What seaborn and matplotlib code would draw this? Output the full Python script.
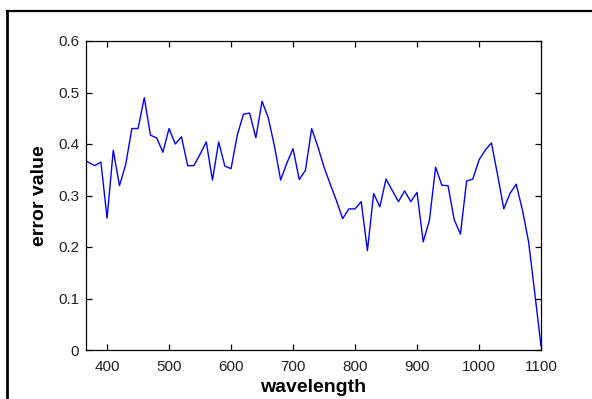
import numpy as np
import pandas as pd
import matplotlib
matplotlib.use('Agg')
import matplotlib.pyplot as plt
from matplotlib.lines import Line2D
import seaborn as sns

# data
wavelength = [366, 380, 390, 400, 410, 420, 430, 440, 450, 460,
              470, 480, 490, 500, 510, 520, 530, 540, 550, 560,
              570, 580, 590, 600, 610, 620, 630, 640, 650, 660,
              670, 680, 690, 700, 710, 720, 730, 740, 750, 760,
              770, 780, 790, 800, 810, 820, 830, 840, 850, 860,
              870, 880, 890, 900, 910, 920, 930, 940, 950, 960,
              970, 980, 990, 1000, 1010, 1020, 1030, 1040, 1050, 1060,
              1070, 1080, 1090, 1100]
error_value = [0.367, 0.358, 0.365, 0.256, 0.388, 0.319, 0.360, 0.430, 0.430, 0.490,
               0.417, 0.412, 0.384, 0.430, 0.400, 0.414, 0.358, 0.358, 0.380, 0.404,
               0.330, 0.404, 0.357, 0.352, 0.417, 0.458, 0.460, 0.412, 0.483, 0.451,
               0.396, 0.330, 0.363, 0.391, 0.331, 0.349, 0.430, 0.395, 0.355, 0.322,
               0.290, 0.255, 0.274, 0.274, 0.288, 0.193, 0.304, 0.278, 0.332, 0.310,
               0.288, 0.309, 0.288, 0.306, 0.210, 0.252, 0.355, 0.320, 0.319, 0.253,
               0.225, 0.328, 0.332, 0.369, 0.388, 0.402, 0.340, 0.274, 0.304, 0.322,
               0.272, 0.210, 0.110, 0.008]

x_ticks = [400, 500, 600, 700, 800, 900, 1000, 1100]
y_ticks = [0, 0.1, 0.2, 0.3, 0.4, 0.5, 0.6]
y_ticklabels = ['0', '0.1', '0.2', '0.3', '0.4', '0.5', '0.6']

df = pd.DataFrame({'wavelength': wavelength, 'error value': error_value})

sns.set_theme(style='white')
plt.rcParams['font.family'] = ['Liberation Sans', 'DejaVu Sans']
plt.rcParams['xtick.direction'] = 'in'
plt.rcParams['ytick.direction'] = 'in'

W, H = 592, 399
fig = plt.figure(figsize=(W / 100, H / 100), dpi=100)
ax = fig.add_axes([86 / W, 1 - 350 / H, 455 / W, 309 / H])

sns.lineplot(data=df, x='wavelength', y='error value', ax=ax,
             color='#0000ff', linewidth=1.0)

ax.set_xlim(366, 1100)
ax.set_ylim(0, 0.6)
ax.set_xticks(x_ticks)
ax.set_yticks(y_ticks)
ax.set_yticklabels(y_ticklabels)

for s in ax.spines.values():
    s.set_color('black')
    s.set_linewidth(0.9)
ax.tick_params(axis='both', which='both', direction='in', length=4, width=0.9,
               colors='black', labelcolor='#222222', labelsize=11,
               top=True, right=True, bottom=True, left=True)
ax.tick_params(axis='x', pad=7)
ax.tick_params(axis='y', pad=5)

ax.set_xlabel('wavelength', fontsize=14, fontweight='bold', labelpad=4, color='black')
ax.set_ylabel('error value', fontsize=14, fontweight='bold', labelpad=7, color='black')

# outer frame (only top and left edges fall inside the image)
fig.add_artist(Line2D([7 / W, 7 / W], [0, 1 - 10.5 / H], transform=fig.transFigure,
                      color='black', linewidth=2, solid_capstyle='projecting'))
fig.add_artist(Line2D([7 / W, 1], [1 - 10.5 / H, 1 - 10.5 / H], transform=fig.transFigure,
                      color='black', linewidth=1.6, solid_capstyle='projecting'))

fig.savefig('out.png', dpi=100, facecolor='white')
